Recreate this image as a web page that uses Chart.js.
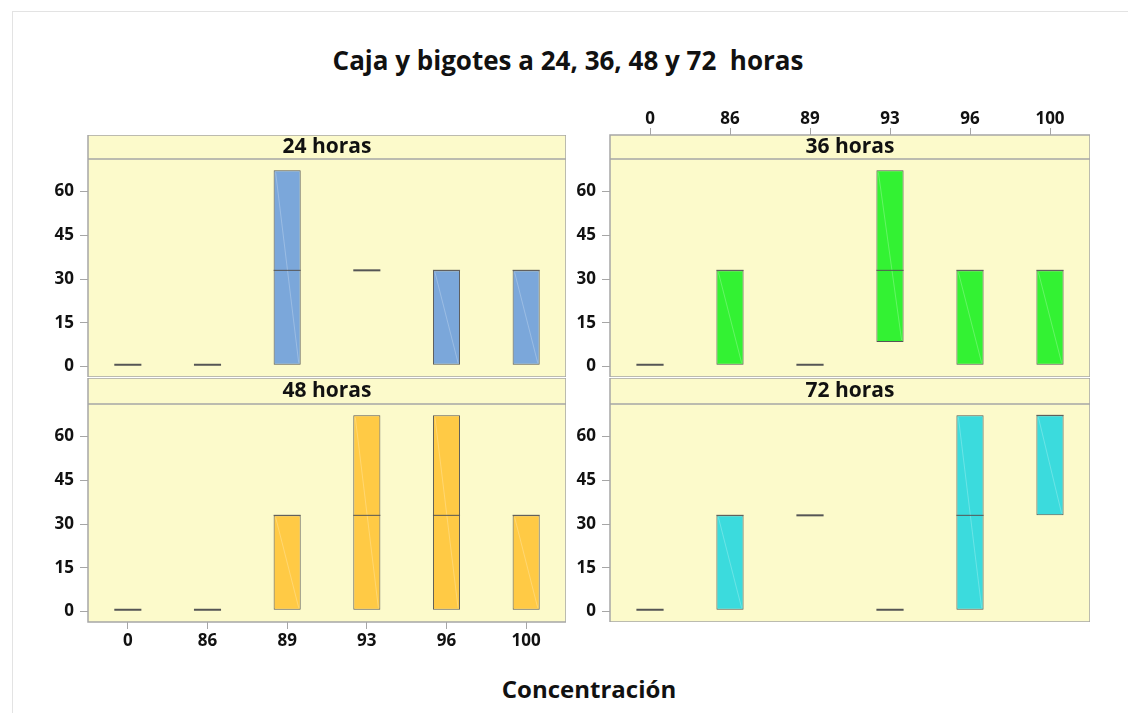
<!DOCTYPE html>
<html>
<head>
<meta charset="utf-8">
<script src="https://cdn.jsdelivr.net/npm/chart.js@4/dist/chart.umd.min.js"></script>
<style>
  body { margin: 0; background: #fff; width: 1128px; height: 713px; overflow: hidden; position: relative; font-family: "Open Sans", sans-serif; }
  #frame { position: absolute; left: 12px; top: 11px; width: 1130px; height: 720px; border: 1px solid #e3e3e3; }
  canvas { position: absolute; }
  #title { position: absolute; left: 4px; width: 1128px; top: 42px; text-align: center; font-size: 26px; line-height: 36px; font-weight: 700; white-space: pre; color: #111; }
  #xtitle { position: absolute; left: 88px; width: 1002px; top: 672px; text-align: center; font-size: 24px; line-height: 34px; font-weight: 700; color: #111; }
</style>
</head>
<body>
<div id="frame"></div>
<div id="title">Caja y bigotes a 24, 36, 48 y 72  horas</div>
<canvas id="c24" width="546" height="242" style="left:20px;top:135px"></canvas>
<canvas id="c36" width="515" height="277" style="left:575px;top:100px"></canvas>
<canvas id="c48" width="546" height="284" style="left:20px;top:378px"></canvas>
<canvas id="c72" width="515" height="244" style="left:575px;top:378px"></canvas>
<div id="xtitle">Concentración</div>
<script>
// Data
const categories = ['0', '86', '89', '93', '96', '100'];
const yTicks = [0, 15, 30, 45, 60];

// 24 horas
const q1_24  = [0.6, 0.6, 0.6, 33, 0.6, 0.6];
const med_24 = [0.6, 0.6, 33, 33, 33, 33];
const q3_24  = [0.6, 0.6, 67.3, 33, 33, 33];
// 36 horas
const q1_36  = [0.6, 0.6, 0.6, 8.4, 0.6, 0.6];
const med_36 = [0.6, 33, 0.6, 33, 33, 33];
const q3_36  = [0.6, 33, 0.6, 67.3, 33, 33];
// 48 horas
const q1_48  = [0.6, 0.6, 0.6, 0.6, 0.6, 0.6];
const med_48 = [0.6, 0.6, 33, 33, 33, 33];
const q3_48  = [0.6, 0.6, 33, 67.3, 67.3, 33];
// 72 horas
const q1_72  = [0.6, 0.6, 33, 0.6, 0.6, 33];
const med_72 = [0.6, 33, 33, 0.6, 33, 67.3];
const q3_72  = [0.6, 33, 33, 0.6, 67.3, 67.3];

const panelBg = '#fcfacb';
const lineGray = '#a6a6a6';
const boxLine = '#555555';
const tickFont = { family: 'Open Sans', size: 17, weight: 'bold' };

const panelPlugin = {
  id: 'panel',
  beforeDraw(chart, args, opts) {
    const { ctx, chartArea: a } = chart;
    ctx.save();
    ctx.fillStyle = panelBg;
    ctx.fillRect(a.left, a.top - opts.headerH, a.right - a.left, a.bottom - a.top + opts.headerH);
    ctx.restore();
  },
  afterDatasetsDraw(chart) {
    const { ctx } = chart;
    const ds = chart.data.datasets[0];
    const meta = chart.getDatasetMeta(0);
    const y = chart.scales.y;
    ctx.save();
    meta.data.forEach((bar, i) => {
      const p = bar.getProps(['x', 'y', 'base', 'width'], true);
      const l = p.x - p.width / 2, r = p.x + p.width / 2;
      const top = Math.min(p.y, p.base), bot = Math.max(p.y, p.base);
      if (bot - top > 4) {
        // faint diagonal inside the box
        ctx.strokeStyle = 'rgba(255,255,255,0.3)';
        ctx.lineWidth = 0.8;
        ctx.beginPath();
        ctx.moveTo(l + 2, top + 2);
        ctx.lineTo(r - 2, bot - 2);
        ctx.stroke();
      }
      const my = y.getPixelForValue(ds.medians[i]);
      ctx.strokeStyle = boxLine;
      ctx.lineWidth = bot - top < 1 ? 2 : 1;
      ctx.beginPath();
      ctx.moveTo(l, my);
      ctx.lineTo(r, my);
      ctx.stroke();
    });
    ctx.restore();
  },
  afterDraw(chart, args, opts) {
    const { ctx, chartArea: a } = chart;
    const h = opts.headerH;
    ctx.save();
    ctx.fillStyle = panelBg;
    ctx.fillRect(a.left, a.top - h, a.right - a.left, h);
    ctx.strokeStyle = lineGray;
    ctx.lineWidth = 1.5;
    ctx.strokeRect(a.left, a.top - h, a.right - a.left, a.bottom - a.top + h);
    ctx.beginPath();
    ctx.moveTo(a.left, a.top);
    ctx.lineTo(a.right, a.top);
    ctx.stroke();
    ctx.fillStyle = '#111';
    ctx.font = 'bold 21px "Open Sans"';
    ctx.textAlign = 'center';
    ctx.textBaseline = 'middle';
    ctx.fillText(opts.title, (a.left + a.right) / 2, a.top - h / 2);
    ctx.restore();
  }
};

function makePanel(id, title, q1, med, q3, color, opt) {
  const ctx = document.getElementById(id).getContext('2d');
  return new Chart(ctx, {
    type: 'bar',
    data: {
      labels: categories,
      datasets: [{
        label: title,
        data: q1.map((v, i) => [v, q3[i]]),
        medians: med,
        backgroundColor: color,
        borderColor: boxLine,
        borderWidth: 1,
        borderSkipped: false,
        barPercentage: 0.34,
        categoryPercentage: 1
      }]
    },
    options: {
      responsive: false,
      animation: false,
      layout: { padding: { top: opt.padTop, left: 0, right: 0, bottom: 0 } },
      plugins: {
        legend: { display: false },
        tooltip: { enabled: false },
        panel: { title: title, headerH: opt.headerH }
      },
      scales: {
        x: {
          display: opt.xPos !== null,
          position: opt.xPos || 'bottom',
          offset: true,
          border: { display: false },
          grid: { drawOnChartArea: false, tickLength: opt.xTick, color: lineGray, offset: false },
          ticks: { color: '#111', font: tickFont, padding: opt.xPad },
          afterFit(s) { s.height = opt.xH; s.paddingLeft = 0; s.paddingRight = 0; }
        },
        y: {
          min: -3.6,
          max: 71.2,
          border: { display: false },
          grid: { drawOnChartArea: false, tickLength: 8, color: lineGray },
          ticks: { color: '#111', font: tickFont, padding: 6 },
          afterBuildTicks(s) { s.ticks = yTicks.map(v => ({ value: v })); },
          afterFit(s) { s.width = opt.yW; s.paddingTop = 0; s.paddingBottom = 0; }
        }
      }
    },
    plugins: [panelPlugin]
  });
}

makePanel('c24', '24 horas', q1_24, med_24, q3_24, '#7ba7da',
  { padTop: 24, headerH: 24, xPos: null, xTick: 0, xH: 0, xPad: 0, yW: 68 });
makePanel('c36', '36 horas', q1_36, med_36, q3_36, '#33f233',
  { padTop: 0, headerH: 24, xPos: 'top', xTick: 31, xH: 59, xPad: -1, yW: 35 });
makePanel('c48', '48 horas', q1_48, med_48, q3_48, '#ffca45',
  { padTop: 26, headerH: 26, xPos: 'bottom', xTick: 7, xH: 40, xPad: 2, yW: 68 });
makePanel('c72', '72 horas', q1_72, med_72, q3_72, '#3bdbdd',
  { padTop: 26, headerH: 26, xPos: null, xTick: 0, xH: 0, xPad: 0, yW: 35 });
</script>
</body>
</html>
